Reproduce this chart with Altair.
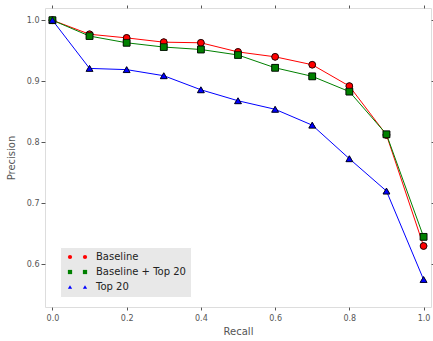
import altair as alt
import pandas as pd

recall = [0.0, 0.1, 0.2, 0.3, 0.4, 0.5, 0.6, 0.7, 0.8, 0.9, 1.0]
baseline = [1.0, 0.977, 0.971, 0.964, 0.963, 0.948, 0.940, 0.927, 0.892, 0.812, 0.630]
baseline_top20 = [1.0, 0.974, 0.963, 0.956, 0.952, 0.943, 0.922, 0.908, 0.883, 0.813, 0.645]
top20 = [1.0, 0.921, 0.919, 0.909, 0.886, 0.868, 0.854, 0.828, 0.773, 0.720, 0.575]

series_names = ["Baseline", "Baseline + Top 20", "Top 20"]
series_colors = ["#ff0000", "#008000", "#0000ff"]
series_shapes = ["circle", "square", "triangle-up"]

x_ticks = [0.0, 0.2, 0.4, 0.6, 0.8, 1.0]
y_ticks = [0.6, 0.7, 0.8, 0.9, 1.0]

rows = []
for name, vals in zip(series_names, [baseline, baseline_top20, top20]):
    for r, p in zip(recall, vals):
        rows.append({"series": name, "recall": r, "precision": p})
df = pd.DataFrame(rows)

FONT = "DejaVu Sans"
GREY = "#555555"

x_scale = alt.Scale(domain=[-0.02, 1.02], nice=False, zero=False)
y_scale = alt.Scale(domain=[0.53, 1.02], nice=False, zero=False)

x_axis = alt.Axis(values=x_ticks, format=".1f", title="Recall", domain=False,
                  grid=True, gridColor="white", gridWidth=1.3,
                  tickColor=GREY, tickSize=3, labelColor=GREY, labelFontSize=8,
                  labelPadding=4, titleColor=GREY, titleFontSize=10,
                  titleFontWeight="normal", titlePadding=4, labelFont=FONT,
                  titleFont=FONT)
y_axis = alt.Axis(values=y_ticks, format=".1f", title="Precision", domain=False,
                  grid=True, gridColor="white", gridWidth=1.3,
                  tickColor=GREY, tickSize=4, labelColor=GREY, labelFontSize=8,
                  labelPadding=2, titleColor=GREY, titleFontSize=10,
                  titleFontWeight="normal", titlePadding=10, labelFont=FONT,
                  titleFont=FONT)

x_top = alt.Axis(orient="top", values=x_ticks, labels=False, title=None,
                 domain=False, grid=False, tickColor=GREY, tickSize=3)
y_right = alt.Axis(orient="right", values=y_ticks, labels=False, title=None,
                   domain=False, grid=False, tickColor=GREY, tickSize=3)

base = alt.Chart(df)

lines = base.mark_line(strokeWidth=1).encode(
    x=alt.X("recall:Q", scale=x_scale, axis=x_axis),
    y=alt.Y("precision:Q", scale=y_scale, axis=y_axis),
    stroke=alt.Stroke("series:N", scale=alt.Scale(domain=series_names, range=series_colors),
                      legend=None),
    detail="series:N",
)

# Invisible layer that only supplies the top and right tick marks
frame_ticks = base.mark_point(opacity=0).encode(
    x=alt.X("recall:Q", scale=x_scale, axis=x_top),
    y=alt.Y("precision:Q", scale=y_scale, axis=y_right),
)

fill_scale = alt.Scale(domain=series_names, range=series_colors)
shape_scale = alt.Scale(domain=series_names, range=series_shapes)

legend_common = dict(orient="none", title=None, symbolSize=18, symbolStrokeColor="black",
                     symbolStrokeWidth=0.6, rowPadding=5, labelFont=FONT,
                     labelFontSize=10, labelColor="#222222", legendY=239)

boxed = dict(legendX=15, padding=5, labelOffset=21, fillColor="#e8e8e8",
             strokeColor="#ffffff", **legend_common)
second_col = dict(legendX=30, padding=5, labelExpr="''", **legend_common)

# Markers, carrying the boxed legend with labels
points_a = base.mark_point(filled=True, size=45, stroke="black", strokeWidth=0.7,
                           opacity=1).encode(
    x=alt.X("recall:Q", scale=x_scale, axis=None),
    y=alt.Y("precision:Q", scale=y_scale, axis=None),
    fill=alt.Fill("series:N", scale=fill_scale, legend=alt.Legend(**boxed)),
    shape=alt.Shape("series:N", scale=shape_scale, legend=alt.Legend(**boxed)),
)

# Same markers again, carrying the second legend symbol column
points_b = base.mark_point(filled=True, size=45, stroke="black", strokeWidth=0.7,
                           opacity=1).encode(
    x=alt.X("recall:Q", scale=x_scale, axis=None),
    y=alt.Y("precision:Q", scale=y_scale, axis=None),
    fill=alt.Fill("series:N", scale=fill_scale, legend=alt.Legend(**second_col)),
    shape=alt.Shape("series:N", scale=shape_scale, legend=alt.Legend(**second_col)),
)

chart = alt.layer(lines, frame_ticks, points_a, points_b).resolve_scale(
    fill="independent", shape="independent"
).resolve_axis(
    x="independent", y="independent"
).properties(
    width=386, height=299,
    autosize=alt.AutoSizeParams(type="none"),
    padding={"left": 45, "top": 8, "right": 2, "bottom": 34},
).configure_view(
    fill="#e5e5e5", stroke=None
).configure(font=FONT, background="white")

chart.save("out.html", embed_options={"renderer": "svg", "actions": False})
